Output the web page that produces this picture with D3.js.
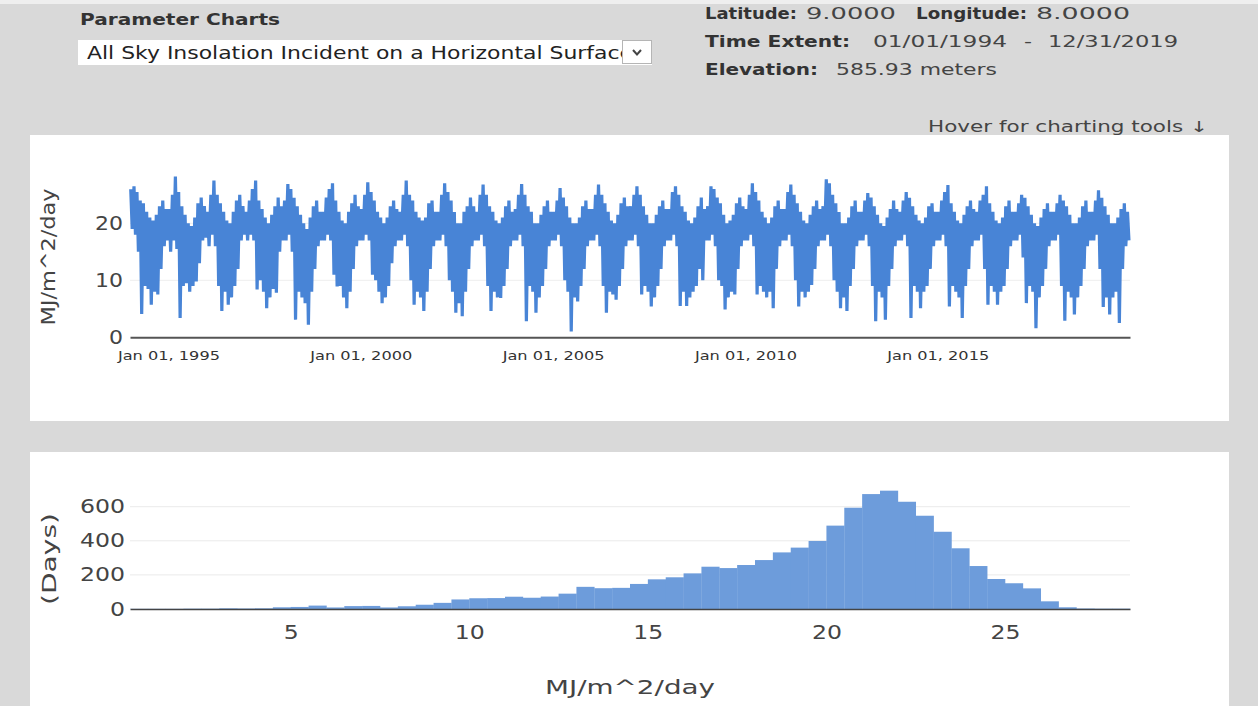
<!DOCTYPE html>
<html>
<head>
<meta charset="utf-8">
<script src="https://cdn.jsdelivr.net/npm/d3@7"></script>
<style>
  html, body { margin: 0; padding: 0; background: #d9d9d9; overflow: hidden; }
  svg { display: block; }
</style>
</head>
<body>
<svg id="page" width="1258" height="706"></svg>
<script>
// ---------------- data ----------------
const years = [1994, 1995, 1996, 1997, 1998, 1999, 2000, 2001, 2002, 2003, 2004, 2005, 2006,
               2007, 2008, 2009, 2010, 2011, 2012, 2013, 2014, 2015, 2016, 2017, 2018, 2019];

// Daily all-sky insolation, summarised per month as the month's high and low (MJ/m^2/day).
//                 Jan   Feb   Mar   Apr   May   Jun   Jul   Aug   Sep   Oct   Nov   Dec
const monthlyHigh = [
  [26.0, 26.5, 25.5, 24.0, 23.5, 22.0, 21.0, 20.5, 21.5, 23.0, 24.0, 22.5],
  [22.5, 25.0, 28.2, 25.5, 23.0, 21.5, 20.0, 19.5, 21.0, 23.5, 24.5, 23.0],
  [22.0, 25.0, 27.5, 25.0, 23.5, 22.0, 20.5, 20.0, 22.0, 24.0, 25.0, 23.0],
  [22.0, 24.0, 26.0, 27.5, 24.0, 22.5, 21.0, 20.0, 21.5, 23.0, 24.5, 23.0],
  [24.0, 26.9, 26.0, 24.5, 23.0, 21.5, 20.0, 19.0, 21.0, 23.0, 24.0, 22.0],
  [22.0, 24.5, 26.0, 27.0, 24.0, 22.0, 20.5, 20.0, 22.0, 23.5, 25.0, 23.0],
  [22.5, 25.0, 27.2, 25.5, 24.0, 22.0, 21.0, 20.0, 21.0, 23.0, 24.0, 22.5],
  [22.0, 25.0, 27.5, 25.0, 24.0, 22.0, 21.0, 20.5, 21.0, 23.5, 24.0, 22.0],
  [22.0, 25.0, 27.0, 25.5, 24.0, 22.0, 20.0, 20.0, 22.0, 23.0, 24.5, 23.0],
  [22.0, 25.0, 26.8, 25.0, 23.0, 22.0, 20.5, 20.0, 21.0, 23.0, 24.0, 22.0],
  [22.5, 25.0, 26.9, 25.0, 23.0, 22.0, 20.0, 20.0, 21.5, 23.0, 24.0, 22.0],
  [22.0, 24.0, 26.2, 24.5, 23.0, 21.0, 20.0, 20.0, 21.0, 23.0, 24.0, 22.5],
  [22.5, 25.0, 26.8, 25.0, 23.5, 22.0, 20.5, 20.0, 21.5, 23.5, 24.5, 23.0],
  [23.0, 25.0, 26.5, 25.0, 23.0, 21.5, 20.0, 20.0, 21.5, 23.0, 24.0, 22.5],
  [22.5, 25.5, 26.5, 25.0, 23.0, 22.0, 20.5, 20.0, 21.0, 23.0, 24.5, 22.5],
  [23.0, 26.5, 26.0, 24.5, 23.5, 21.5, 20.0, 20.5, 21.5, 23.5, 24.5, 23.0],
  [22.5, 25.0, 27.0, 25.5, 24.0, 22.0, 21.0, 20.0, 21.0, 23.0, 24.0, 22.5],
  [22.5, 25.5, 26.8, 25.0, 23.5, 22.0, 20.5, 20.0, 21.5, 23.0, 24.0, 22.5],
  [23.0, 27.7, 27.0, 25.0, 23.5, 22.0, 20.0, 20.0, 21.0, 23.0, 24.0, 22.0],
  [22.0, 24.0, 25.3, 24.5, 23.0, 21.5, 20.0, 19.5, 21.0, 22.5, 24.0, 22.5],
  [22.0, 24.0, 25.5, 24.5, 23.0, 21.5, 20.5, 20.0, 21.0, 23.0, 23.5, 22.0],
  [22.0, 24.0, 25.5, 26.7, 23.5, 22.0, 20.5, 20.0, 21.5, 23.0, 24.0, 22.5],
  [22.0, 24.0, 25.0, 26.5, 23.5, 22.0, 20.5, 20.0, 21.0, 23.0, 24.0, 22.0],
  [22.0, 23.5, 25.0, 24.5, 23.0, 21.5, 20.0, 19.5, 21.0, 22.5, 23.5, 22.0],
  [22.0, 23.5, 25.0, 24.0, 23.0, 21.5, 20.0, 20.0, 21.0, 23.0, 24.0, 22.0],
  [22.0, 24.0, 25.8, 24.5, 23.0, 21.5, 20.0, 20.0, 21.0, 22.5, 23.5, 22.0]
];
const monthlyLow = [
  [19.0, 18.0, 15.0,  4.1,  9.0,  8.5,  5.7,  8.0,  7.5, 12.0, 16.0, 17.0],
  [15.0, 17.0, 15.5,  3.4,  9.0,  9.5,  8.0,  9.0,  9.8, 13.0, 17.0, 17.5],
  [16.0, 18.0, 16.0,  9.0,  4.6,  8.0,  5.7,  7.0,  9.0, 12.0, 17.0, 18.0],
  [17.0, 18.0, 17.0,  8.4, 10.0,  8.0,  5.1,  7.0,  8.5,  7.8, 15.0, 17.0],
  [17.0, 18.0, 15.0,  3.1,  8.0,  7.0,  6.0,  2.2,  8.0, 12.0, 16.0, 17.0],
  [17.0, 18.0, 17.0, 11.0,  8.9,  9.0,  7.0,  5.1,  8.0, 12.0, 16.0, 17.0],
  [17.0, 18.0, 17.0, 11.0, 10.0,  8.0,  6.0,  7.0,  9.0, 13.0, 16.0, 17.0],
  [17.0, 18.0, 16.0, 10.0,  5.7,  8.0,  7.0,  4.6,  8.0, 12.0, 16.0, 17.0],
  [17.0, 18.0, 16.0, 10.0,  8.0,  4.3,  6.0,  3.7,  8.0, 12.0, 16.0, 17.0],
  [17.0, 18.0, 16.0,  9.0,  4.6,  8.0,  7.0,  6.9,  9.0, 12.0, 16.0, 17.0],
  [17.0, 18.0, 16.0,  2.8,  9.0,  8.0,  4.3,  7.0,  9.0, 12.0, 16.0, 17.0],
  [17.0, 18.0, 16.0, 10.0,  8.0,  1.0,  7.0,  6.3,  9.0, 12.0, 16.0, 17.0],
  [17.0, 18.0, 16.0,  9.0,  4.3,  8.0,  7.5,  6.6,  9.0, 12.0, 16.0, 17.0],
  [17.0, 18.0, 16.0,  7.5,  9.0,  8.0,  5.4,  7.0,  9.0, 12.0, 16.0, 17.0],
  [17.0, 18.0, 16.0,  5.5,  8.0,  5.5,  7.0,  8.0,  9.0, 12.0, 10.0, 17.0],
  [17.0, 18.0, 16.0, 10.0,  9.0,  4.9,  7.0,  8.0,  7.5, 12.0, 16.0, 17.0],
  [17.0, 18.0, 16.0,  7.5,  9.0,  8.0,  7.0,  8.0,  5.1, 12.0, 16.0, 17.0],
  [17.0, 18.0, 16.0, 10.0,  5.4,  8.0,  7.0,  8.0,  9.2, 12.0, 16.0, 17.0],
  [17.0, 18.0, 16.0, 10.0,  8.0,  5.1,  7.0,  4.6,  9.0, 12.0, 16.0, 17.0],
  [17.0, 18.0, 16.0,  9.0,  2.8,  8.0,  7.0,  3.1,  9.0, 12.0, 16.0, 17.0],
  [17.0, 18.0, 16.0,  3.4,  9.0,  8.0,  5.1,  8.0,  9.0, 12.0, 16.0, 17.0],
  [17.0, 18.0, 16.0,  5.4,  9.0,  8.0,  7.0,  3.4,  9.0, 12.0, 16.0, 17.0],
  [17.0, 18.0, 12.0,  5.7,  9.0,  8.0,  5.7,  8.0,  9.0, 12.0, 16.0, 17.0],
  [17.0, 18.0, 14.0,  6.0,  9.0,  8.0,  1.6,  7.0,  9.0, 12.0, 16.0, 17.0],
  [17.0, 18.0,  9.0,  2.9,  8.0,  7.0,  4.0,  7.0,  9.0, 12.0, 16.0, 17.0],
  [17.0, 18.0, 12.0,  5.3,  7.0,  4.0,  7.0,  8.0,  2.5, 12.0, 16.0, 17.0]
];

const topTickValues = [0, 10, 20];
const topTickDates = ["1995-01-01", "2000-01-01", "2005-01-01", "2010-01-01", "2015-01-01"];

// Histogram of daily values: bins of 0.5 MJ/m^2/day starting at 0.5
const histStart = 0.5;
const histBinWidth = 0.5;
const histCounts = [
    1,   1,   1,   2,   2,   4,   3,   4,  10,  12,
   20,   9,  17,  18,   9,  16,  25,  36,  56,  63,
   64,  72,  66,  73,  90, 130, 122, 124, 147, 174,
  186, 209, 248, 240, 258, 287, 332, 360, 399, 489,
  594, 674, 694, 629, 547, 453, 356, 252, 176, 151,
  121,  45,  10,   3,   2,   2
];
const histTickValues = [5, 10, 15, 20, 25];
const histYTicks = [0, 200, 400, 600];

// ---------------- drawing ----------------
const svg = d3.select("#page");
const FONT = "'DejaVu Sans', Verdana, sans-serif";
const LINE_BLUE = "#4884d6";
const BAR_BLUE = "#6d9cdb";

function fit(sel, w) {
  sel.attr("textLength", w).attr("lengthAdjust", "spacingAndGlyphs");
  return sel;
}
function txt(parent, s, x, y, o = {}) {
  const t = parent.append("text")
    .attr("x", x).attr("y", y)
    .attr("font-family", FONT)
    .attr("font-size", o.size || 15)
    .attr("font-weight", o.weight || "normal")
    .attr("fill", o.fill || "#444")
    .attr("text-anchor", o.anchor || "start")
    .text(s);
  if (o.w) fit(t, o.w);
  if (o.transform) t.attr("transform", o.transform);
  return t;
}

// page background and panels
svg.append("rect").attr("width", 1258).attr("height", 706).attr("fill", "#d9d9d9");
svg.append("rect").attr("width", 1258).attr("height", 4).attr("fill", "#efefef");
svg.append("rect").attr("x", 30).attr("y", 135).attr("width", 1199).attr("height", 286).attr("fill", "#fff");
svg.append("rect").attr("x", 30).attr("y", 452).attr("width", 1199).attr("height", 254).attr("fill", "#fff");

// header: parameter selector
const head = svg.append("g");
txt(head, "Parameter Charts", 80, 25, { size: 15, weight: "bold", fill: "#333", w: 200 });
head.append("rect").attr("x", 78).attr("y", 40).attr("width", 574).attr("height", 25).attr("fill", "#fff");
head.append("clipPath").attr("id", "selClip")
  .append("rect").attr("x", 78).attr("y", 38).attr("width", 544).attr("height", 30);
txt(head, "All Sky Insolation Incident on a Horizontal Surface", 87, 59,
    { size: 18, fill: "#222", w: 546 }).attr("clip-path", "url(#selClip)");
head.append("rect").attr("x", 622.5).attr("y", 40.5).attr("width", 29).attr("height", 23)
  .attr("fill", "#fff").attr("stroke", "#b5b5b5");
head.append("path").attr("d", "M633,50 L637,54.5 L641,50")
  .attr("fill", "none").attr("stroke", "#444").attr("stroke-width", 2);

// header: site info
txt(head, "Latitude:", 705, 19, { weight: "bold", fill: "#333", w: 92 });
txt(head, "9.0000", 806, 19, { fill: "#444", w: 90 });
txt(head, "Longitude:", 916, 19, { weight: "bold", fill: "#333", w: 111 });
txt(head, "8.0000", 1036, 19, { fill: "#444", w: 94 });
txt(head, "Time Extent:", 705, 47, { weight: "bold", fill: "#333", w: 145 });
txt(head, "01/01/1994", 873, 47, { fill: "#444", w: 134 });
txt(head, "-", 1024, 47, { fill: "#444", w: 8 });
txt(head, "12/31/2019", 1048, 47, { fill: "#444", w: 130 });
txt(head, "Elevation:", 705, 75, { weight: "bold", fill: "#333", w: 113 });
txt(head, "585.93 meters", 836, 75, { fill: "#444", w: 161 });
txt(head, "Hover for charting tools \u2193", 928, 132, { fill: "#444", w: 280 });

// ---------- time series chart ----------
const parseDay = d3.utcParse("%Y-%m-%d");
const xTop = d3.scaleUtc()
  .domain([Date.UTC(1994, 0, 1), Date.UTC(2020, 0, 1)])
  .range([130, 1130]);
const yTop = d3.scaleLinear().domain([0, 30]).range([337.3, 166.3]);

const gTop = svg.append("g");
gTop.append("g").selectAll("line").data(topTickValues.filter(v => v > 0)).join("line")
  .attr("x1", 130).attr("x2", 1130)
  .attr("y1", d => yTop(d)).attr("y2", d => yTop(d))
  .attr("stroke", "#eeeeee").attr("stroke-width", 1);

const series = [];
years.forEach((yr, i) => {
  monthlyHigh[i].forEach((hi, m) => {
    series.push({ date: new Date(Date.UTC(yr, m, 8)), value: hi });
    series.push({ date: new Date(Date.UTC(yr, m, 22)), value: monthlyLow[i][m] });
  });
});
gTop.append("path").datum(series)
  .attr("fill", "none")
  .attr("stroke", LINE_BLUE)
  .attr("stroke-width", 3.2)
  .attr("stroke-miterlimit", 1.5)
  .attr("d", d3.line().x(d => xTop(d.date)).y(d => yTop(d.value)));

const axTopX = gTop.append("g").attr("transform", `translate(0,${yTop(0)})`)
  .call(d3.axisBottom(xTop)
    .tickValues(topTickDates.map(parseDay))
    .tickFormat(d3.utcFormat("%b %d, %Y"))
    .tickSize(0).tickPadding(14));
axTopX.select(".domain").attr("stroke", "#555").attr("stroke-width", 2);
axTopX.selectAll("text").attr("font-family", FONT).attr("font-size", 12).attr("fill", "#333")
  .attr("textLength", 102).attr("lengthAdjust", "spacingAndGlyphs");

const axTopY = gTop.append("g").attr("transform", "translate(123,0)")
  .call(d3.axisLeft(yTop).tickValues(topTickValues).tickSize(0).tickPadding(0));
axTopY.select(".domain").remove();
axTopY.selectAll("text").attr("font-family", FONT).attr("font-size", 19).attr("fill", "#444")
  .attr("textLength", d => String(d).length * 14).attr("lengthAdjust", "spacingAndGlyphs");

txt(gTop, "MJ/m^2/day", 0, 0, { size: 19, anchor: "middle", w: 137,
    transform: "translate(55,257) rotate(-90)" });

// ---------- histogram ----------
const xH = d3.scaleLinear().domain([0.5, 28.5]).range([130, 1130]);
const yH = d3.scaleLinear().domain([0, 600]).range([609, 506.7]);
const gH = svg.append("g");

gH.append("g").selectAll("line").data(histYTicks.filter(v => v > 0)).join("line")
  .attr("x1", 130).attr("x2", 1130)
  .attr("y1", d => yH(d)).attr("y2", d => yH(d))
  .attr("stroke", "#eaeaea").attr("stroke-width", 1);

gH.append("g").selectAll("rect").data(histCounts).join("rect")
  .attr("x", (d, i) => xH(histStart + i * histBinWidth))
  .attr("width", (d, i) => xH(histStart + (i + 1) * histBinWidth) - xH(histStart + i * histBinWidth) + 0.3)
  .attr("y", d => yH(d))
  .attr("height", d => yH(0) - yH(d))
  .attr("fill", BAR_BLUE);

const axHX = gH.append("g").attr("transform", `translate(0,${yH(0)})`)
  .call(d3.axisBottom(xH).tickValues(histTickValues).tickSize(0).tickPadding(17));
axHX.select(".domain").attr("stroke", "#444").attr("stroke-width", 1.5);
axHX.selectAll("text").attr("font-family", FONT).attr("font-size", 19).attr("fill", "#444")
  .attr("textLength", d => String(d).length * 15).attr("lengthAdjust", "spacingAndGlyphs");

const axHY = gH.append("g").attr("transform", "translate(125,0)")
  .call(d3.axisLeft(yH).tickValues(histYTicks).tickSize(0).tickPadding(0));
axHY.select(".domain").remove();
axHY.selectAll("text").attr("font-family", FONT).attr("font-size", 19).attr("fill", "#444")
  .attr("textLength", d => String(d).length * 15).attr("lengthAdjust", "spacingAndGlyphs");

txt(gH, "(Days)", 0, 0, { size: 19, anchor: "middle", w: 92,
    transform: "translate(56,559) rotate(-90)" });
txt(gH, "MJ/m^2/day", 630, 694, { size: 20, anchor: "middle", w: 170 });
</script>
</body>
</html>
